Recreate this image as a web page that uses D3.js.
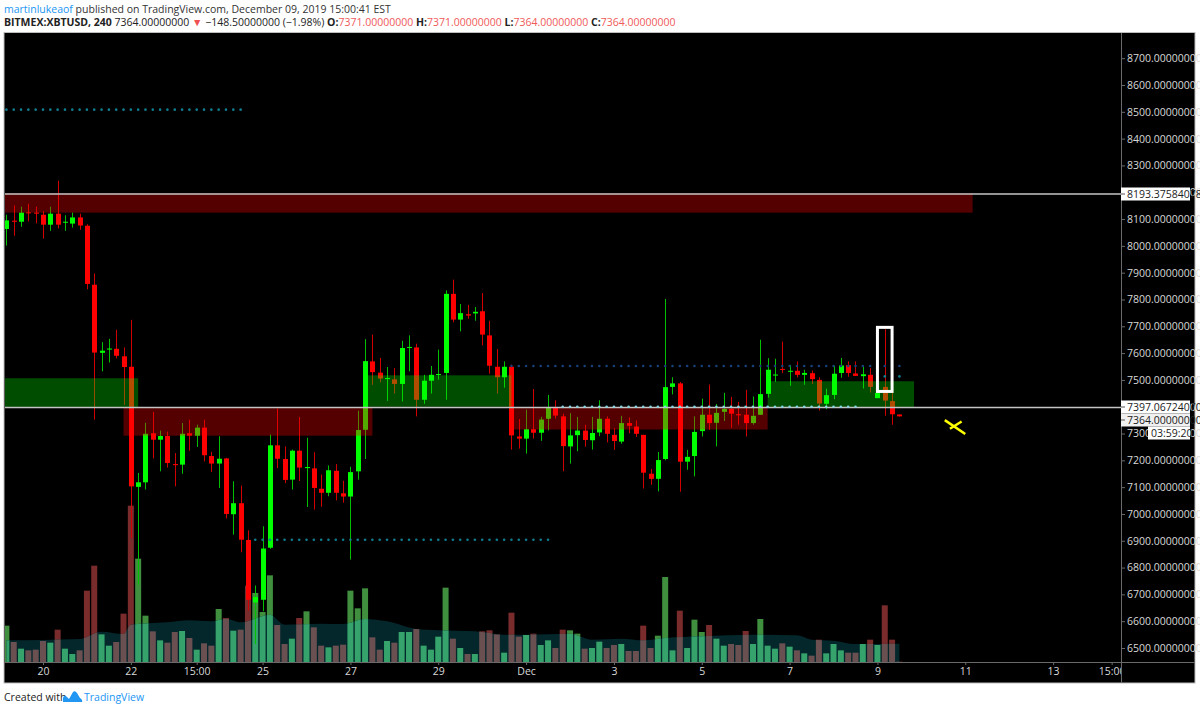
<!DOCTYPE html>
<html>
<head>
<meta charset="utf-8">
<script src="https://d3js.org/d3.v7.min.js"></script>
<style>

html, body {
  width: 100%;
  height: 100%;
  overflow: hidden;
  margin: 0;
  padding: 0;
  background: #fff;
}

text {
  font-family: "Open Sans", "Noto Sans", sans-serif;
}

.axis text {
  fill: #d8d8d8;
  font-size: 10.5px;
}

.axis line, .axis path {
  stroke: #6a6a6a;
}

</style>
</head>
<body>
<script>

// 4h candles, bar 0 is the first one on the left edge, bar 122 the live one
var opens = [
  8063,8094,8090,8125,8124,8116,8079,8120,8088,8083,8106,8075,7855,7601,7614,7616,7588,7549,7101,7118,
  7301,7277,7291,7186,7184,7301,7292,7322,7216,7188,7207,6999,7040,6903,6670,6680,6874,7256,7205,7128,
  7236,7171,7170,7094,7079,7161,7077,7065,7159,7314,7569,7527,7503,7502,7485,7620,7621,7426,7497,7519,
  7526,7821,7725,7745,7748,7756,7666,7549,7510,7549,7289,7281,7316,7303,7355,7399,7364,7252,7294,7311,
  7275,7304,7355,7295,7270,7339,7326,7295,7150,7131,7205,7474,7487,7195,7216,7309,7370,7340,7381,7392,
  7372,7370,7339,7370,7448,7518,7541,7532,7534,7519,7525,7500,7411,7444,7526,7555,7524,7514,7519,7432,
  7474,7421,7371
];
var highs = [
  8116,8151,8146,8157,8146,8129,8146,8243,8114,8124,8120,8081,7897,7641,7653,7687,7621,7724,7153,7340,
  7381,7311,7307,7227,7339,7352,7333,7352,7232,7290,7209,7122,7106,6939,6733,6954,7296,7393,7252,7240,
  7362,7284,7230,7147,7181,7186,7124,7176,7385,7652,7669,7582,7548,7544,7646,7666,7635,7519,7552,7613,
  7834,7874,7783,7780,7772,7824,7721,7615,7569,7557,7354,7389,7466,7362,7444,7424,7374,7376,7362,7333,
  7362,7424,7364,7320,7366,7360,7349,7295,7168,7231,7802,7510,7492,7239,7364,7430,7483,7410,7452,7437,
  7418,7463,7438,7650,7581,7579,7643,7556,7569,7538,7535,7510,7467,7553,7582,7569,7569,7550,7544,7474,
  7689,7451,7371
];
var lows = [
  8001,8038,8071,8091,8084,8027,8056,8065,8056,8068,8060,7838,7352,7532,7565,7580,7407,6910,6736,7091,
  7207,7159,7173,7103,7150,7236,7250,7196,7157,7097,6983,6923,6857,6640,6515,6637,6870,7171,7115,7091,
  7123,7026,7016,7027,7066,7051,7042,6830,7128,7205,7482,7491,7422,7449,7420,7532,7364,7411,7449,7501,
  7426,7715,7681,7728,7721,7629,7523,7449,7471,7240,7244,7225,7281,7273,7312,7355,7159,7188,7234,7251,
  7240,7290,7267,7239,7262,7301,7287,7095,7109,7084,7200,7446,7083,7165,7140,7289,7314,7252,7347,7321,
  7333,7289,7333,7370,7434,7493,7525,7478,7509,7482,7485,7386,7391,7428,7508,7512,7515,7468,7453,7432,
  7366,7333,7364
];
var closes = [
  8095,8090,8124,8122,8120,8079,8120,8079,8090,8106,8076,7858,7602,7609,7617,7590,7548,7103,7118,7299,
  7277,7291,7190,7182,7299,7292,7322,7219,7188,7206,7000,7040,6904,6680,6690,6871,7256,7206,7127,7236,
  7173,7175,7097,7079,7163,7079,7065,7156,7313,7570,7529,7505,7507,7485,7619,7623,7426,7497,7519,7522,
  7821,7725,7749,7740,7754,7669,7553,7510,7549,7293,7281,7316,7303,7352,7399,7367,7253,7293,7311,7276,
  7302,7355,7299,7272,7339,7329,7299,7154,7131,7201,7473,7487,7195,7213,7306,7370,7339,7377,7392,7374,
  7368,7339,7366,7447,7538,7520,7538,7534,7519,7526,7503,7412,7443,7523,7554,7526,7515,7521,7474,7451,
  7423,7372,7364
];

// volume, same bars, plus the moving average read at a few bars
var volumes = [
  109,60,40,35,37,63,58,97,40,24,35,214,289,83,49,60,145,469,310,139,
  92,65,58,90,93,72,37,56,49,159,132,94,97,229,207,150,260,111,54,70,
  132,152,104,49,44,49,52,214,161,221,74,37,63,58,90,90,99,49,37,76,
  223,70,42,24,24,92,95,83,28,148,76,81,85,51,65,42,97,95,85,40,
  42,61,42,51,54,33,33,109,42,79,255,35,154,42,127,90,111,70,49,54,
  51,93,54,129,49,40,56,46,35,26,19,67,26,54,35,28,28,54,67,51,
  170,67,1
];
var volMaBars = [0,10,13,16,17,22,25,28,30,32,36,38,43,46,49,52,56,59,64,68,71,77,80,84,87,90,95,102,108,110,113,116,122];
var volMaValues = [65,69,91,84,112,119,125,122,130,119,142,112,115,114,129,122,99,95,92,82,82,85,67,70,65,72,77,82,80,67,64,54,55];

// shaded supply and demand zones, start bar, end bar, top and bottom price
var zoneStart = [-1, -1, 16, 49, 69, 104];
var zoneEnd = [132, 18, 50, 69, 104, 124];
var zoneTop = [8196, 7506, 7397, 7517, 7397, 7495];
var zoneBottom = [8124, 7397, 7292, 7400, 7315, 7397];
var zoneColor = ["red", "green", "red", "green", "red", "green"];

// dotted levels
var dotPrice = [8508, 6904, 7552, 7513, 7400];
var dotFrom = [0, 34, 69, 120, 76];
var dotTo = [32, 74, 122, 122, 116];
var dotStep = [1, 1, 1, 2, 1];
var dotColor = ["#0f7d8e", "#0f7d8e", "#173f78", "#0f7d8e", "#86d3e0"];

var lineLevels = [8193.37584078, 7397.06724070];

var priceTicks = d3.range(6500, 8800, 100);
var timeTickBars = [5, 17, 26, 35, 47, 59, 71, 83, 95, 107, 119, 131, 143, 151];
var timeTickLabels = ["20", "22", "15:00", "25", "27", "29", "Dec", "3", "5", "7", "9", "11", "13", "15:00"];

var w = 1200,
    h = 711,
    left = 5,
    top_ = 33,
    right = 1121,
    bottom = 662,
    outerRight = 1195,
    outerBottom = 683;

var svg = d3.select('body').append('svg')
  .attr('width', w)
  .attr('height', h)
  .style('display', 'block');

var x = d3.scaleLinear().domain([0, 122]).range([6.4, 899.4]);
var y = d3.scaleLinear().domain([6500, 8700]).range([648, 58.2]);
var yVol = d3.scaleLinear().domain([0, 480]).range([bottom, bottom - 160]);

var bars = d3.range(opens.length);

// panel
svg.append('rect')
  .attr('x', left - 1).attr('y', top_ - 0.5)
  .attr('width', outerRight - left + 1).attr('height', outerBottom - top_ + 0.5)
  .attr('fill', '#000')
  .attr('stroke', '#bdbdbd');

var defs = svg.append('defs');
defs.append('clipPath').attr('id', 'pane').append('rect')
  .attr('x', left).attr('y', top_).attr('width', right - left).attr('height', bottom - top_);
defs.append('clipPath').attr('id', 'timeclip').append('rect')
  .attr('x', left).attr('y', bottom).attr('width', right - left).attr('height', outerBottom - bottom);

var pane = svg.append('g').attr('clip-path', 'url(#pane)');

// volume
function isUp(i) { return closes[i] >= opens[i]; }

var volArea = d3.area()
  .x(function(d) { return x(d); })
  .y0(bottom)
  .y1(function(d, i) { return yVol(volMaValues[i]); })
  .curve(d3.curveMonotoneX);

defs.append('clipPath').attr('id', 'maclip').append('path').attr('d', volArea(volMaBars));

function drawVolume(g, up, down) {
  g.selectAll('rect')
    .data(bars)
    .enter().append('rect')
    .attr('x', function(i) { return x(i) - 3; })
    .attr('width', 6)
    .attr('y', function(i) { return yVol(volumes[i]); })
    .attr('height', function(i) { return bottom - yVol(volumes[i]); })
    .attr('fill', function(i) { return isUp(i) ? up : down; });
}

drawVolume(pane.append('g'), '#3f8f3f', '#7a2c2c');
pane.append('path').attr('d', volArea(volMaBars)).attr('fill', '#04272c');
drawVolume(pane.append('g').attr('clip-path', 'url(#maclip)'), '#35a36b', '#6b5052');

// candles
var candles = pane.selectAll('g.candle')
  .data(bars)
  .enter().append('g')
  .attr('class', 'candle');

candles.append('line')
  .attr('x1', function(i) { return Math.round(x(i)) + 0.5; })
  .attr('x2', function(i) { return Math.round(x(i)) + 0.5; })
  .attr('y1', function(i) { return y(highs[i]); })
  .attr('y2', function(i) { return y(lows[i]); })
  .attr('stroke', function(i) { return isUp(i) ? '#00c000' : '#d00000'; })
  .attr('stroke-width', 1);

candles.append('rect')
  .attr('x', function(i) { return Math.round(x(i)) - 2; })
  .attr('width', 5)
  .attr('y', function(i) { return y(Math.max(opens[i], closes[i])); })
  .attr('height', function(i) { return Math.max(1, Math.abs(y(opens[i]) - y(closes[i]))); })
  .attr('fill', function(i) { return isUp(i) ? '#00ff00' : '#ff0000'; });

// zones
pane.selectAll('rect.zone')
  .data(zoneStart)
  .enter().append('rect')
  .attr('class', 'zone')
  .attr('x', function(d) { return x(d); })
  .attr('width', function(d, i) { return x(zoneEnd[i]) - x(d); })
  .attr('y', function(d, i) { return y(zoneTop[i]); })
  .attr('height', function(d, i) { return y(zoneBottom[i]) - y(zoneTop[i]); })
  .attr('fill', function(d, i) { return zoneColor[i] == 'red' ? 'rgba(255,0,0,0.33)' : 'rgba(0,255,0,0.3)'; });

// horizontal rays
pane.selectAll('line.level')
  .data(lineLevels)
  .enter().append('line')
  .attr('class', 'level')
  .attr('x1', left).attr('x2', right)
  .attr('y1', function(d) { return y(d); })
  .attr('y2', function(d) { return y(d); })
  .attr('stroke', '#c4c4c4')
  .attr('stroke-width', 1.5);

// dotted levels
dotPrice.forEach(function(p, k) {
  pane.append('g').selectAll('circle')
    .data(d3.range(dotFrom[k], dotTo[k] + 1, dotStep[k]))
    .enter().append('circle')
    .attr('cx', function(d) { return x(d); })
    .attr('cy', y(p))
    .attr('r', 1.3)
    .attr('fill', dotColor[k]);
});

// white box and yellow cross drawn on the chart
pane.append('rect')
  .attr('x', x(119)).attr('width', x(121) - x(119))
  .attr('y', y(7696)).attr('height', y(7457) - y(7696))
  .attr('fill', 'none')
  .attr('stroke', '#fff')
  .attr('stroke-width', 3);

var crossA = [[128.2, 7350], [131, 7298]];
var crossB = [[128.9, 7318], [130.5, 7345]];
[crossA, crossB].forEach(function(seg) {
  pane.append('line')
    .attr('x1', x(seg[0][0])).attr('y1', y(seg[0][1]))
    .attr('x2', x(seg[1][0])).attr('y2', y(seg[1][1]))
    .attr('stroke', '#ffff00')
    .attr('stroke-width', 2.5);
});

// axes
var yAxis = d3.axisRight(y)
  .tickValues(priceTicks)
  .tickSize(4)
  .tickPadding(2)
  .tickFormat(function(d) { return d.toFixed(8); });

var yg = svg.append('g')
  .attr('class', 'axis')
  .attr('transform', 'translate(' + right + ',0)')
  .call(yAxis);
yg.select('.domain').remove();

var xAxis = d3.axisBottom(x)
  .tickValues(timeTickBars)
  .tickSize(3)
  .tickPadding(3)
  .tickFormat(function(d, i) { return timeTickLabels[i]; });

var xg = svg.append('g')
  .attr('clip-path', 'url(#timeclip)')
  .append('g')
  .attr('class', 'axis')
  .attr('transform', 'translate(0,' + bottom + ')')
  .call(xAxis);
xg.select('.domain').remove();

svg.append('line').attr('x1', left).attr('x2', outerRight)
  .attr('y1', bottom + 0.5).attr('y2', bottom + 0.5).attr('stroke', '#6a6a6a');
svg.append('line').attr('x1', right + 0.5).attr('x2', right + 0.5)
  .attr('y1', top_).attr('y2', outerBottom).attr('stroke', '#6a6a6a');

// price labels on the scale
var tags = [
  { text: '8193.37584078', py: 194, x0: right, fill: '#fff', hh: 13 },
  { text: '7397.06724070', py: 407, x0: right, fill: '#fff', hh: 13 },
  { text: '7364.00000000', py: 420, x0: right, fill: '#f0f0f0', hh: 13 },
  { text: '03:59:20', py: 433, x0: 1148, fill: '#fff', hh: 13 }
];
tags.forEach(function(t) {
  svg.append('rect')
    .attr('x', t.x0).attr('y', t.py - t.hh / 2)
    .attr('width', 1190 - t.x0).attr('height', t.hh)
    .attr('fill', t.fill);
  svg.append('text')
    .attr('x', t.x0 == right ? 1127 : 1151)
    .attr('y', t.py + 3.6)
    .attr('font-size', 10.5)
    .attr('fill', '#222')
    .text(t.text);
  if (t.x0 == right) {
    svg.append('line').attr('x1', right).attr('x2', right + 4)
      .attr('y1', t.py).attr('y2', t.py).attr('stroke', '#555');
  }
});

// header
var head1 = svg.append('text').attr('x', 4).attr('y', 12.5).attr('font-size', 10.5).attr('fill', '#333');
head1.append('tspan').attr('fill', '#2196f3').text('martinlukeaof');
head1.append('tspan').text(' published on TradingView.com, December 09, 2019 15:00:41 EST');

var head2 = svg.append('text').attr('x', 4).attr('y', 26).attr('font-size', 10.5).attr('fill', '#222');
head2.append('tspan').attr('font-weight', 'bold').text('BITMEX:XBTUSD, 240');
head2.append('tspan').text(' 7364.00000000 ');
head2.append('tspan').attr('fill', '#f05050').text('\u25BC');
head2.append('tspan').text(' \u2212148.50000000 (\u22121.98%) ');
['O', 'H', 'L', 'C'].forEach(function(k, i) {
  head2.append('tspan').attr('font-weight', 'bold').text(k + ':');
  head2.append('tspan').attr('fill', '#f05a5a').text([7371, 7371, 7364, 7364][i].toFixed(8) + ' ');
});

// footer
svg.append('text').attr('x', 4).attr('y', 701).attr('font-size', 10.5).attr('fill', '#222').text('Created with');
svg.append('path')
  .attr('d', 'M63 702 L63 698 Q64 694 67 697 L69 699 L73 692 Q75 690 77 693 L80 698 Q83 700 82 702 Z')
  .attr('fill', '#2196f3');
svg.append('text').attr('x', 84).attr('y', 701).attr('font-size', 10.5).attr('fill', '#2196f3').text('TradingView');

</script>
</body>
</html>
